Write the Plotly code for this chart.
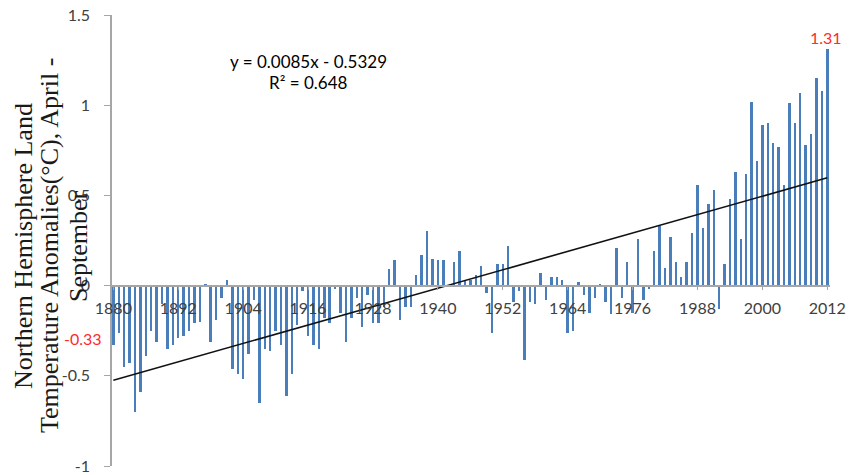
import numpy as np
import plotly.graph_objects as go

# April-September land temperature anomalies, Northern Hemisphere (deg C)
years = list(range(1880, 2013))
anomalies = [
    -0.33, -0.26, -0.45, -0.43, -0.70, -0.59, -0.39, -0.25, -0.31, -0.10,  # 1880-1889
    -0.35, -0.33, -0.29, -0.28, -0.25, -0.21, -0.20, 0.01, -0.31, -0.19,   # 1890-1899
    -0.07, 0.03, -0.46, -0.49, -0.52, -0.38, -0.08, -0.65, -0.35, -0.36,   # 1900-1909
    -0.25, -0.33, -0.61, -0.49, -0.22, -0.03, -0.28, -0.33, -0.35, -0.18,  # 1910-1919
    -0.21, -0.02, -0.15, -0.31, -0.18, -0.07, -0.23, -0.05, -0.21, -0.21,  # 1920-1929
    -0.12, 0.09, 0.14, -0.19, -0.12, -0.12, 0.06, 0.17, 0.30, 0.15,        # 1930-1939
    0.14, 0.14, -0.01, 0.13, 0.19, 0.03, 0.03, 0.06, 0.11, -0.04,          # 1940-1949
    -0.26, 0.12, 0.12, 0.22, -0.09, -0.03, -0.41, -0.09, -0.10, 0.07,      # 1950-1959
    -0.08, 0.05, 0.05, 0.03, -0.26, -0.25, 0.02, -0.05, -0.15, -0.07,      # 1960-1969
    0.01, -0.09, -0.16, 0.21, -0.07, 0.13, -0.15, 0.26, -0.08, -0.02,      # 1970-1979
    0.19, 0.33, 0.10, 0.27, 0.13, 0.05, 0.13, 0.29, 0.56, 0.32,            # 1980-1989
    0.45, 0.53, -0.13, 0.12, 0.48, 0.63, 0.26, 0.62, 1.02, 0.69,           # 1990-1999
    0.89, 0.90, 0.79, 0.77, 0.56, 1.01, 0.90, 1.07, 0.78, 0.84,            # 2000-2009
    1.15, 1.08, 1.31,                                                      # 2010-2012
]

# Linear trend as reported (x = 1 for the first year)
trend_slope = 0.0085
trend_intercept = -0.5329
r_squared = 0.648

x_tick_years = list(range(1880, 2013, 12))
y_ticks = [-1, -0.5, 0, 0.5, 1, 1.5]
y_tick_text = ["-1", "-0.5", "0", "0.5", "1", "1.5"]

title_lines = [
    "Northern Hemisphere Land",
    "Temperature Anomalies(°C), April -",
    "September",
]

idx = np.arange(1, len(years) + 1)
trend = trend_slope * idx + trend_intercept

BAR_COLOR = "#4a7ebb"
AXIS_COLOR = "#a6a6a6"
TEXT_COLOR = "#404040"
RED = "#ff2a2a"
LABEL_FONT = "Lato, 'Open Sans', sans-serif"

W, H = 849, 475
m_l, m_r, m_t, m_b = 112, 19, 15, 9
plot_w = W - m_l - m_r
plot_h = H - m_t - m_b


def px_x(px):
    """Horizontal page pixel -> paper fraction."""
    return (px - m_l) / plot_w


def px_y(py):
    """Vertical page pixel (from top) -> paper fraction."""
    return (H - m_b - py) / plot_h


fig = go.Figure()
fig.add_trace(go.Bar(
    x=years, y=anomalies, width=0.45,
    marker=dict(color=BAR_COLOR, line=dict(width=0)),
    showlegend=False, hoverinfo="x+y",
))
fig.add_trace(go.Scatter(
    x=[years[0], years[-1]], y=[trend[0], trend[-1]],
    mode="lines", line=dict(color="#111111", width=1.6),
    showlegend=False, hoverinfo="skip",
))

fig.update_layout(
    width=W, height=H,
    margin=dict(l=m_l, r=m_r, t=m_t, b=m_b, pad=0),
    paper_bgcolor="white", plot_bgcolor="white",
    bargap=0,
    xaxis=dict(
        range=[1879.75, 2012.5], automargin=False,
        tickmode="array", tickvals=x_tick_years,
        ticktext=[str(v) for v in x_tick_years],
        ticks="outside", ticklen=4, tickwidth=1, tickcolor=AXIS_COLOR,
        showline=True, linecolor=AXIS_COLOR, linewidth=1.5,
        showgrid=False, zeroline=False,
        anchor="free", position=0.4,
        tickfont=dict(family=LABEL_FONT, size=16, color=TEXT_COLOR),
        ticklabelstandoff=4,
    ),
    yaxis=dict(
        range=[-1, 1.5], automargin=False,
        tickmode="array", tickvals=y_ticks, ticktext=y_tick_text,
        ticks="outside", ticklen=6, tickwidth=1, tickcolor=AXIS_COLOR,
        showline=True, linecolor=AXIS_COLOR, linewidth=1.5,
        showgrid=False, zeroline=False,
        tickfont=dict(family=LABEL_FONT, size=16, color=TEXT_COLOR),
        ticklabelstandoff=11,
    ),
)

# Rotated axis title, one annotation per line
for line, px in zip(title_lines, [23, 49, 78]):
    fig.add_annotation(
        text=line, textangle=-90,
        xref="paper", yref="paper",
        x=px_x(px), y=px_y(246),
        xanchor="center", yanchor="middle", showarrow=False,
        font=dict(family="'Liberation Serif', 'Times New Roman', serif",
                  size=26, color="#1a1a1a"),
    )

# Trend equation
fig.add_annotation(
    text=f"y = {trend_slope}x - {abs(trend_intercept)}",
    xref="paper", yref="paper", x=px_x(308), y=px_y(61),
    xanchor="center", yanchor="middle", showarrow=False,
    font=dict(family=LABEL_FONT, size=17, color="#000000"),
)
fig.add_annotation(
    text=f"R² = {r_squared}",
    xref="paper", yref="paper", x=px_x(308), y=px_y(82),
    xanchor="center", yanchor="middle", showarrow=False,
    font=dict(family=LABEL_FONT, size=17, color="#000000"),
)

# Highlight first and last values
fig.add_annotation(
    text=f"{anomalies[0]:.2f}", xref="paper", yref="paper",
    x=px_x(104), y=px_y(338),
    xanchor="right", yanchor="middle",
    showarrow=False, font=dict(family=LABEL_FONT, size=16, color=RED),
)
fig.add_annotation(
    text=f"{anomalies[-1]:.2f}", xref="x", yref="paper",
    x=years[-1] - 0.3, y=px_y(37),
    xanchor="center", yanchor="middle",
    showarrow=False, font=dict(family=LABEL_FONT, size=16, color=RED),
)

fig.write_html("out.html")
